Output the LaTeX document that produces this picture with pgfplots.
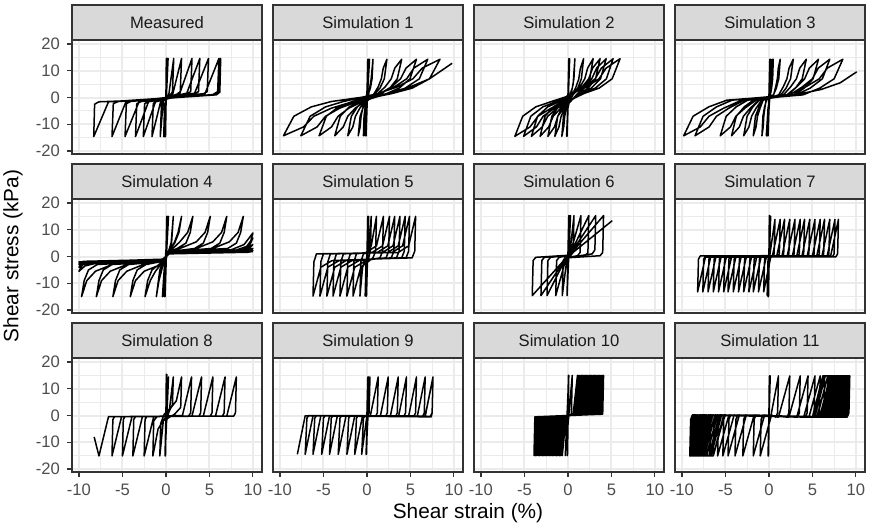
\documentclass[border=0pt]{standalone}
\usepackage{fontspec}
\setmainfont{Liberation Sans}
\usepackage{pgfplots}
\pgfplotsset{compat=1.18}

\definecolor{grid92}{HTML}{EBEBEB}
\definecolor{grey20}{HTML}{333333}
\definecolor{grey30}{HTML}{4D4D4D}
\definecolor{grey85}{HTML}{D9D9D9}
\definecolor{grey10}{HTML}{1A1A1A}

\pgfplotsset{
  facet/.style={
    scale only axis, width=95pt, height=57pt, anchor=south west,
    xmin=-10.8, xmax=11.05, ymin=-21.1, ymax=21.5,
    axis line style={grey20, line width=0.6pt},
    xtick={-10,-5,0,5,10}, ytick={-20,-10,0,10,20},
    minor xtick={-7.5,-2.5,2.5,7.5}, minor ytick={-15,-5,5,15},
    grid=both,
    major grid style={grid92, line width=1pt},
    minor grid style={grid92, line width=0.5pt},
    xticklabels={}, yticklabels={},
    tick pos=left, tick align=outside,
    major tick length=2.5pt, minor tick length=0pt,
    xtick style={draw=none}, ytick style={draw=none},
    tick label style={font=\fontsize{8.3}{9}\selectfont, text=grey30},
  },
  leftcol/.style={yticklabels={-20,-10,0,10,20}, ytick style={draw=grey20, line width=0.6pt}},
  bottomrow/.style={xticklabels={-10,-5,0,5,10}, xtick style={draw=grey20, line width=0.6pt}},
  hy/.style={black, line width=0.75pt, line join=round},
}
\newcommand{\strip}[2]{\node[draw=grey20, fill=grey85, line width=0.6pt, minimum width=95pt,
  minimum height=17.5pt, anchor=south west, inner sep=0pt, outer sep=0pt, text=grey10,
  font=\fontsize{8.3}{9}\selectfont] at (#1.north west) {#2};}

\begin{document}
\begin{tikzpicture}
\path[use as bounding box] (0,0) rectangle (434.5pt,264pt);

% ---------- row 1 ----------
\begin{axis}[facet, leftcol, name=m0, at={(36pt,187pt)}]
\addplot[hy] coordinates {(0,0)(0.05,14.6)(-0.05,-14.6)(0.1,14.6)(-0.1,-14.6)(0.15,14.6)(-0.15,-14.6)(0.25,14.6)(-0.25,-14.6)
(-0.15,-2.5)(0.35,1.5)(0.9,14.6)
(0.75,2)(0.5,1)(-0.3,-1.2)(-0.65,-14.6)
(-0.5,-2)(-0.2,-1)(0.8,1.5)(1.8,14.6)
(1.65,2.2)(1.2,1.1)(-0.6,-1.5)(-1.6,-14.6)
(-1.45,-2.2)(-1.0,-1.2)(1.6,1.6)(3.0,14.6)
(2.85,2.2)(2.3,1.2)(-1.2,-1.6)(-2.6,-14.6)
(-2.45,-2.3)(-1.9,-1.3)(2.4,1.6)(3.9,14.6)
(3.75,2.2)(3.2,1.2)(-2.0,-1.6)(-3.5,-14.6)
(-3.35,-2.3)(-2.8,-1.4)(3.3,1.6)(4.9,14.6)
(4.75,2.2)(4.2,1.2)(-3.1,-1.6)(-4.7,-14.6)
(-4.55,-2.3)(-4.0,-1.4)(4.5,1.5)(6.1,14.6)
(5.95,2.2)(5.4,1.1)(-4.6,-1.6)(-6.2,-14.6)
(-6.05,-2.3)(-5.5,-1.5)(5.8,1.0)(6.2,2)(6.3,14.6)
(6.15,2.2)(5.6,1.0)(-6.6,-1.6)(-8.3,-14.6)
(-8.2,-2.5)(-7.7,-1.6)(-1,-0.8)(0.5,0.5)};
\end{axis}
\strip{m0}{Measured}

\begin{axis}[facet, name=s1, at={(136.5pt,187pt)}]
\addplot[hy] coordinates {(0,0)(0.1,14.3)(-0.1,-14.3)(0.2,14.3)(-0.2,-14.3)(0.3,14.3)(-0.4,-14.3)
(-0.33,-7)(-0.2,-3.5)(0.21,1.5)(0.49,7)(0.7,14.3)
(0.59,7)(0.4,3.5)(0.18,1.5)(-0.25,-1.5)(-0.48,-4)(-0.67,-7)(-0.78,-11)(-1.0,-14.3)
(-0.78,-7)(-0.41,-3.5)(0,-1.5)(0.84,1.5)(1.3,4)(1.66,7)(1.88,11)(2.3,14.3)
(2.0,7)(1.5,3.5)(0.92,1.5)(-0.2,-1.5)(-0.82,-4)(-1.32,-7)(-1.62,-11)(-2.2,-14.3)
(-1.79,-7)(-1.1,-3.5)(-0.31,-1.5)(1.25,1.5)(2.11,4)(2.8,7)(3.21,11)(4.0,14.3)
(3.49,7)(2.63,3.5)(1.65,1.5)(-0.28,-1.5)(-1.35,-4)(-2.2,-7)(-2.72,-11)(-3.7,-14.3)
(-3.07,-7)(-2.03,-3.5)(-0.83,-1.5)(1.52,1.5)(2.83,4)(3.87,7)(4.5,11)(5.7,14.3)
(4.95,7)(3.71,3.5)(2.28,1.5)(-0.52,-1.5)(-2.08,-4)(-3.32,-7)(-4.07,-11)(-5.5,-14.3)
(-4.67,-7)(-3.28,-3.5)(-1.68,-1.5)(1.45,1.5)(3.18,4)(4.57,7)(5.4,11)(7.0,14.3)
(6.03,7)(4.4,3.5)(2.54,1.5)(-1.11,-1.5)(-3.14,-4)(-4.76,-7)(-5.73,-11)(-7.6,-14.3)
(-6.53,-7)(-4.76,-3.5)(-2.71,-1.5)(1.29,1.5)(3.51,4)(5.29,7)(6.36,11)(8.4,14.3)
(7.2,7)(5.2,3.5)(2.9,1.5)(-1.6,-1.5)(-4.1,-4)(-6.1,-7)(-7.3,-11)(-9.6,-14.3)
(-8.4,-7)(-6.4,-3.5)(-4.1,-1.5)(2.5,1.5)(5,4)(7.2,7)(9.8,12.8)};
\end{axis}
\strip{s1}{Simulation 1}

\begin{axis}[facet, name=s2, at={(237pt,187pt)}]
\addplot[hy] coordinates {(0,0)(0.1,14.5)(-0.1,-14.5)(0.2,14.5)(-0.15,-14.5)
(0,-4)(0.3,0.5)(0.6,5)(0.8,14.5)
(0.69,7)(0.5,3.5)(0.28,1.5)(0.05,-1.5)(-0.18,-4)(-0.37,-7)(-0.48,-11)(-0.7,-14.5)
(-0.51,-7)(-0.2,-3.5)(0.16,-1.5)(0.55,1.5)(0.94,4)(1.25,7)(1.44,11)(1.8,14.5)
(1.55,7)(1.14,3.5)(0.67,1.5)(0.15,-1.5)(-0.37,-4)(-0.78,-7)(-1.03,-11)(-1.5,-14.5)
(-1.17,-7)(-0.62,-3.5)(0.01,-1.5)(0.7,1.5)(1.39,4)(1.94,7)(2.27,11)(2.9,14.5)
(2.51,7)(1.86,3.5)(1.11,1.5)(0.3,-1.5)(-0.51,-4)(-1.16,-7)(-1.55,-11)(-2.3,-14.5)
(-1.85,-7)(-1.1,-3.5)(-0.24,-1.5)(0.7,1.5)(1.64,4)(2.39,7)(2.84,11)(3.7,14.5)
(3.18,7)(2.32,3.5)(1.33,1.5)(0.25,-1.5)(-0.83,-4)(-1.69,-7)(-2.21,-11)(-3.2,-14.5)
(-2.63,-7)(-1.68,-3.5)(-0.59,-1.5)(0.6,1.5)(1.79,4)(2.74,7)(3.31,11)(4.4,14.5)
(3.75,7)(2.68,3.5)(1.44,1.5)(0.1,-1.5)(-1.24,-4)(-2.32,-7)(-2.96,-11)(-4.2,-14.5)
(-3.49,-7)(-2.32,-3.5)(-0.97,-1.5)(0.5,1.5)(1.97,4)(3.14,7)(3.85,11)(5.2,14.5)
(4.43,7)(3.14,3.5)(1.66,1.5)(0.05,-1.5)(-1.56,-4)(-2.85,-7)(-3.62,-11)(-5.1,-14.5)
(-4.27,-7)(-2.88,-3.5)(-1.28,-1.5)(0.45,1.5)(2.18,4)(3.57,7)(4.4,11)(6.0,14.5)
(5.09,7)(3.58,3.5)(1.84,1.5)(-0.05,-1.5)(-1.94,-4)(-3.45,-7)(-4.36,-11)(-6.1,-14.5)
(-5.2,-7)(-3.7,-3.5)(-1.9,-1.5)(0,0.5)};
\end{axis}
\strip{s2}{Simulation 2}

\begin{axis}[facet, name=s3, at={(337.5pt,187pt)}]
\addplot[hy] coordinates {(0,0)(0.1,14.3)(-0.1,-14.3)(0.2,14.3)(-0.2,-14.3)(0.4,14.3)(-0.3,-14.3)
(-0.1,-4)(0.1,0)(0.35,5)(0.5,14.3)
(0.43,7)(0.31,3.5)(0.17,1)(-0.33,-1)(-0.47,-4)(-0.59,-7)(-0.66,-11)(-0.8,-14.3)
(-0.69,-7)(-0.5,-3.5)(-0.28,-1)(0.54,1)(0.78,4)(0.97,7)(1.08,11)(1.3,14.3)
(1.13,7)(0.85,3.5)(0.52,1)(-0.67,-1)(-1.02,-4)(-1.31,-7)(-1.48,-11)(-1.8,-14.3)
(-1.55,-7)(-1.13,-3.5)(-0.65,-1)(1.13,1)(1.65,4)(2.07,7)(2.32,11)(2.8,14.3)
(2.49,7)(1.97,3.5)(1.38,1)(-0.83,-1)(-1.48,-4)(-1.99,-7)(-2.3,-11)(-2.9,-14.3)
(-2.51,-7)(-1.85,-3.5)(-1.1,-1)(1.68,1)(2.5,4)(3.16,7)(3.55,11)(4.3,14.3)
(3.83,7)(3.05,3.5)(2.15,1)(-1.17,-1)(-2.15,-4)(-2.93,-7)(-3.4,-11)(-4.3,-14.3)
(-3.75,-7)(-2.84,-3.5)(-1.8,-1)(2.06,1)(3.2,4)(4.11,7)(4.65,11)(5.7,14.3)
(5.08,7)(4.06,3.5)(2.87,1)(-1.49,-1)(-2.77,-4)(-3.8,-7)(-4.42,-11)(-5.6,-14.3)
(-4.91,-7)(-3.77,-3.5)(-2.45,-1)(2.42,1)(3.85,4)(5.0,7)(5.68,11)(7.0,14.3)
(6.15,7)(4.74,3.5)(3.12,1)(-2.86,-1)(-4.62,-4)(-6.03,-7)(-6.88,-11)(-8.5,-14.3)
(-7.57,-7)(-6.03,-3.5)(-4.25,-1)(2.32,1)(4.25,4)(5.79,7)(6.72,11)(8.5,14.3)
(7.5,7)(5.84,3.5)(3.92,1)(-3.14,-1)(-5.22,-4)(-6.89,-7)(-7.89,-11)(-9.8,-14.3)
(-8.72,-7)(-6.92,-3.5)(-4.85,-1)(3,1)(6,3)(8.2,5.5)(10.1,9.6)};
\end{axis}
\strip{s3}{Simulation 3}

% ---------- row 2 ----------
\begin{axis}[facet, leftcol, name=s4, at={(36pt,107.5pt)}]
\addplot[hy] coordinates {(0,0)(0.1,15)(-0.1,-15)(0.2,15)(-0.2,-15)(0.3,15)(-0.4,-15)
(-0.2,-5)(0,-1)(0.3,2)(0.6,5)(0.85,15)
(0.65,5)(0.3,2)(0,0)(-0.3,-2)(-0.7,-5)(-1.1,-15)
(-0.8,-9)(-0.4,-4)(-0.2,-2)(0.2,1.8)(0.6,3)(1.0,5.5)(1.4,9)(1.8,15)
(1.5,9)(1.0,5)(0.4,2.2)(-0.3,-1.8)(-0.6,-3)(-1.2,-5.5)(-1.8,-9)(-2.4,-15)
(-2.1,-9)(-1.6,-5)(-0.8,-3)(-0.4,-1.8)(0.4,1.8)(0.8,3)(1.6,5.5)(2.5,9)(3.1,15)
(2.8,9)(2.3,5)(1.3,3)(0.4,1.8)(-0.4,-1.8)(-0.6,-3)(-2.5,-5.5)(-3.5,-9)(-4.1,-15)
(-3.8,-9)(-3.3,-5)(-2.3,-3)(-0.4,-1.8)(0.4,1.8)(1.6,3)(3.5,5.5)(4.5,9)(5.1,15)
(4.8,9)(4.3,5)(3.3,3)(0.4,1.8)(-0.4,-1.8)(-2.6,-3)(-4.5,-5.5)(-5.5,-9)(-6.1,-15)
(-5.8,-9)(-5.3,-5)(-4.3,-3)(-0.4,-1.8)(0.4,1.8)(3.5,3)(5.4,5.5)(6.4,9)(7.0,15)
(6.7,9)(6.2,5)(5.2,3)(0.4,1.8)(-0.4,-1.8)(-4.5,-3)(-6.4,-5.5)(-7.4,-9)(-8.0,-15)
(-7.7,-9)(-7.2,-5)(-6.2,-3)(-0.4,-1.8)(0.4,1.8)(5.4,3)(7.3,5.5)(8.3,9)(8.9,15)
(8.6,9)(8.1,5)(7.1,3)(0.4,1.8)(-0.4,-1.8)(-6.2,-3)(-8.1,-5.5)(-9.1,-9)(-9.7,-15)
(-9.4,-9)(-8.9,-5)(-7.9,-3)(-0.4,-1.6)(0.4,1.6)(7.5,2.5)(9.0,4.5)(10,8.8)
(9.7,5)(9,2.5)(0.4,1.4)(-0.4,-1.6)(-8,-2.5)(-9.3,-3.5)(-10,-5.5)
(-9.6,-3)(-8.5,-2.2)(-0.4,-1.4)(0.4,1.4)(8,2.3)(9.3,3.8)(10,6.9)
(9.6,4)(8.7,2.2)(0.4,1.3)(-0.4,-1.4)(-8.5,-2.2)(-9.5,-3)(-10,-4.0)
(-9.6,-2.5)(-8.5,-2)(-0.4,-1.3)(0.4,1.3)(8.5,2.1)(9.5,3.2)(10,4.5)
(9.6,3)(8.8,2)(0.4,1.2)(-0.4,-1.3)(-9,-2)(-10,-3.0)
(-9.5,-2.1)(-0.4,-1.2)(0.4,1.2)(9,1.9)(10,3.0)
(9.5,2)(0.4,1.1)(-0.4,-1.2)(-9.5,-1.9)(-10,-2.5)
(-9.5,-1.8)(-0.4,-1.1)(0.4,1.1)(9.5,1.8)(10,2.2)
(9.5,1.6)(0.4,1.0)(-0.4,-1.1)(-10,-2)
(-0.4,-1)(0.4,1)(10,1.8)};
\end{axis}
\strip{s4}{Simulation 4}

\begin{axis}[facet, name=s5, at={(136.5pt,107.5pt)}]
\addplot[hy] coordinates {(0,0)(0.1,15)(-0.05,-14.8)(0.2,15)(-0.2,-14.8)
(-0.1,-2)(0.05,1)(0.2,3)(0.5,15)
(0.4,2)(0.2,-0.5)(-0.2,-1.5)(-0.5,-4)(-0.8,-14.8)
(-0.7,-2)(-0.4,1.0)(0,1.3)(0.5,4)(1.1,15)
(1.0,2)(0.7,-0.5)(0.3,-1.5)(-0.7,-4)(-1.6,-14.8)
(-1.5,-2)(-1.2,1.0)(-0.1,1.5)(1.1,4)(1.9,15)
(1.8,2)(1.5,-0.5)(-0.1,-1.5)(-1.4,-4)(-2.3,-14.8)
(-2.2,-2)(-1.9,1.0)(0.6,1.5)(1.8,4)(2.6,15)
(2.5,2)(2.2,-0.5)(-0.9,-1.5)(-2.2,-4)(-3.1,-14.8)
(-3.0,-2)(-2.7,1.0)(1.2,1.5)(2.4,4)(3.2,15)
(3.1,2)(2.8,-0.5)(-1.7,-1.5)(-3.0,-4)(-3.9,-14.8)
(-3.8,-2)(-3.5,1.0)(1.8,1.5)(3.0,4)(3.8,15)
(3.7,2)(3.4,-0.5)(-2.4,-1.5)(-3.7,-4)(-4.6,-14.8)
(-4.5,-2)(-4.2,1.0)(2.4,1.5)(3.6,4)(4.4,15)
(4.3,2)(4.0,-0.5)(-3.2,-1.5)(-4.5,-4)(-5.4,-14.8)
(-5.3,-2)(-5.0,1.0)(2.9,1.5)(4.1,4)(4.9,15)
(4.8,2)(4.5,-0.5)(-4.0,-1.5)(-5.3,-4)(-6.2,-14.8)
(-6.1,-2)(-5.8,1.0)(3.6,1.5)(4.8,4)(5.6,15)
(5.5,2)(5.2,-0.5)(0,-1)};
\end{axis}
\strip{s5}{Simulation 5}

\begin{axis}[facet, name=s6, at={(237pt,107.5pt)}]
\addplot[hy] coordinates {(0,0)(0.1,15.3)(-0.1,-14.6)(0.2,15.3)(-0.1,-14.6)(0.3,15.3)(-0.1,-14.6)
(0,-1)(0.2,0.5)(0.7,15.3)
(0.6,1.5)(0.3,0.3)(-0.1,-0.5)(-0.65,-14.6)
(-0.55,-1.5)(-0.3,-0.3)(0.2,0.5)(1.5,15.3)
(1.4,1.5)(1.1,0.3)(-0.2,-0.5)(-1.4,-14.6)
(-1.3,-1.5)(-1.0,-0.3)(0.2,0.5)(2.4,15.3)
(2.3,1.5)(2.0,0.3)(-0.2,-0.5)(-2.4,-14.6)
(-2.3,-1.5)(-2.0,-0.3)(0.2,0.5)(3.2,15.3)
(3.1,2.5)(2.8,1.0)(-0.2,-0.5)(-3.1,-14.6)
(-3.0,-1.5)(-2.7,-0.3)(0.2,0.5)(4.1,15.3)
(4.0,1.5)(3.7,0.3)(-0.2,-0.5)(-4.1,-14.6)
(-4.0,-1.5)(-3.7,-0.3)(0.2,0.5)(5.1,13.4)};
\end{axis}
\strip{s6}{Simulation 6}

\begin{axis}[facet, name=s7, at={(337.5pt,107.5pt)}]
\addplot[hy] coordinates {(0,0)(0.05,15.3)(-0.05,-15)(0.1,15.3)(-0.1,-15)(0.2,15)(-0.2,-14.5)
(-0.1,-1)(0.1,0.5)(0.7,13.9)
(0.6,1)(0.4,-0.1)(0.2,-0.3)(-0.6,-13.2)
(-0.5,-1)(-0.3,0.2)(0.4,0.2)(1.3,13.9)
(1.2,1)(1.0,-0.1)(-0.3,-0.2)(-1.2,-13.2)
(-1.1,-1)(-0.9,0.2)(0.9,0.2)(1.8,13.9)
(1.7,1)(1.5,-0.1)(-0.9,-0.2)(-1.8,-13.2)
(-1.7,-1)(-1.5,0.2)(1.5,0.2)(2.4,13.9)
(2.3,1)(2.1,-0.1)(-1.4,-0.2)(-2.3,-13.2)
(-2.2,-1)(-2.0,0.2)(2.1,0.2)(3.0,13.9)
(2.9,1)(2.7,-0.1)(-2.0,-0.2)(-2.9,-13.2)
(-2.8,-1)(-2.6,0.2)(2.7,0.2)(3.6,13.9)
(3.5,1)(3.3,-0.1)(-2.6,-0.2)(-3.5,-13.2)
(-3.4,-1)(-3.2,0.2)(3.2,0.2)(4.1,13.9)
(4.0,1)(3.8,-0.1)(-3.2,-0.2)(-4.1,-13.2)
(-4.0,-1)(-3.8,0.2)(3.8,0.2)(4.7,13.9)
(4.6,1)(4.4,-0.1)(-3.8,-0.2)(-4.7,-13.2)
(-4.6,-1)(-4.4,0.2)(4.4,0.2)(5.3,13.9)
(5.2,1)(5.0,-0.1)(-4.3,-0.2)(-5.2,-13.2)
(-5.1,-1)(-4.9,0.2)(5.0,0.2)(5.9,13.9)
(5.8,1)(5.6,-0.1)(-4.9,-0.2)(-5.8,-13.2)
(-5.7,-1)(-5.5,0.2)(5.5,0.2)(6.4,13.9)
(6.3,1)(6.1,-0.1)(-5.5,-0.2)(-6.4,-13.2)
(-6.3,-1)(-6.1,0.2)(6.1,0.2)(7.0,13.9)
(6.9,1)(6.7,-0.1)(-6.1,-0.2)(-7.0,-13.2)
(-6.9,-1)(-6.7,0.2)(6.7,0.2)(7.6,13.9)
(7.5,1)(7.3,-0.1)(-6.7,-0.2)(-7.6,-13.2)
(-7.5,-1)(-7.3,0.2)(7.1,0.2)(8.0,13.9)
(7.9,1)(7.7,-0.1)(-7.3,-0.2)(-8.2,-13.2)
(-8.1,-1)(-7.9,0.2)(0,0.3)};
\end{axis}
\strip{s7}{Simulation 7}

% ---------- row 3 ----------
\begin{axis}[facet, leftcol, bottomrow, name=s8, at={(36pt,28pt)}]
\addplot[hy] coordinates {(0,0)(0.05,15.4)(-0.05,-15.1)(0.1,15.4)(-0.1,-15.1)(0.3,14.4)(-0.1,-15.1)
(0,-3)(0.4,2)(0.85,14.4)
(0.75,4)(0.3,1)(-0.3,-2)(-0.7,-15.1)
(-0.6,-3)(-0.2,0.5)(0.6,3)(1.2,5.5)(1.8,14.4)
(1.7,3)(1.0,0.5)(-0.3,-2)(-0.9,-5)(-1.5,-15.1)
(-1.4,-2)(-1.0,-0.3)(1.9,0)(2.95,14.4)
(2.85,1)(2.6,-0.2)(-1.4,-0.4)(-2.5,-15.1)
(-2.4,-1.5)(-2.2,-0.4)(3.0,-0.2)(4.1,14.4)
(4.0,1)(3.8,-0.2)(-2.7,-0.4)(-3.8,-15.1)
(-3.7,-1.5)(-3.5,-0.4)(4.3,-0.2)(5.4,14.4)
(5.3,1)(5.1,-0.2)(-3.9,-0.4)(-5.0,-15.1)
(-4.9,-1.5)(-4.7,-0.4)(5.7,-0.2)(6.8,14.4)
(6.7,1)(6.5,-0.2)(-5.1,-0.4)(-6.2,-15.1)
(-6.1,-1.5)(-5.9,-0.4)(7.0,-0.2)(8.1,14.4)
(8.0,1)(7.8,-0.2)(-6.6,-0.4)(-7.7,-15.1)
(-8.25,-8)};
\end{axis}
\strip{s8}{Simulation 8}

\begin{axis}[facet, bottomrow, name=s9, at={(136.5pt,28pt)}]
\addplot[hy] coordinates {(0,0)(0.1,14.4)(-0.05,-14.5)(0.2,14.4)(-0.1,-14.5)(0.35,14.4)
(0.25,1)(0,-0.2)(-0.6,-14.5)
(-0.4,-1)(-0.2,0)(0.4,0)(1.3,14.4)
(1.2,1)(1.0,-0.3)(-0.5,-0.1)(-1.4,-14.5)
(-1.2,-1)(-1.0,0)(1.55,-0.2)(2.45,14.4)
(2.35,1)(2.15,-0.3)(-1.4,-0.1)(-2.3,-14.5)
(-2.1,-1)(-1.9,0)(2.7,-0.2)(3.6,14.4)
(3.5,1)(3.3,-0.3)(-2.4,-0.1)(-3.3,-14.5)
(-3.1,-1)(-2.9,0)(3.65,-0.2)(4.55,14.4)
(4.45,1)(4.25,-0.3)(-3.4,-0.1)(-4.3,-14.5)
(-4.1,-1)(-3.9,0)(4.8,-0.2)(5.7,14.4)
(5.6,1)(5.4,-0.3)(-4.3,-0.1)(-5.2,-14.5)
(-5.0,-1)(-4.8,0)(5.8,-0.2)(6.7,14.4)
(6.6,1)(6.4,-0.3)(-5.3,-0.1)(-6.2,-14.5)
(-6.0,-1)(-5.8,0)(6.7,-0.2)(7.6,14.4)
(7.5,1)(7.3,-0.3)(-6.2,-0.1)(-7.1,-14.5)
(-6.9,-1)(-6.7,0)(6.7,-0.4)(7.6,14.4)
(7.5,1)(7.4,-0.5)(-7.1,-0.1)(-8.0,-14.5)};
\end{axis}
\strip{s9}{Simulation 9}

\begin{axis}[facet, bottomrow, name=s10, at={(237pt,28pt)}]
\addplot[hy] coordinates {(0,0)(0.05,15)(-0.05,-15)(0.1,15)(-0.3,-15)(0.5,15)
(0.4,0.5)(-0.2,-0.5)(-0.65,-15)
(-0.55,-0.5)(0.6,0.5)(1.1,15)(1.0,0.5)(-0.41,-0.5)(-0.81,-15)
(-0.71,-0.5)(0.75,0.5)(1.25,15)(1.15,0.5)(-0.58,-0.5)(-0.98,-15)
(-0.88,-0.5)(0.9,0.5)(1.4,15)(1.3,0.5)(-0.74,-0.5)(-1.14,-15)
(-1.04,-0.5)(1.05,0.5)(1.55,15)(1.45,0.5)(-0.9,-0.5)(-1.3,-15)
(-1.2,-0.5)(1.2,0.5)(1.7,15)(1.6,0.5)(-1.06,-0.5)(-1.46,-15)
(-1.36,-0.5)(1.35,0.5)(1.85,15)(1.75,0.5)(-1.23,-0.5)(-1.63,-15)
(-1.53,-0.5)(1.5,0.5)(2.0,15)(1.9,0.5)(-1.39,-0.5)(-1.79,-15)
(-1.69,-0.5)(1.65,0.5)(2.15,15)(2.05,0.5)(-1.55,-0.5)(-1.95,-15)
(-1.85,-0.5)(1.8,0.5)(2.3,15)(2.2,0.5)(-1.71,-0.5)(-2.11,-15)
(-2.01,-0.5)(1.95,0.5)(2.45,15)(2.35,0.5)(-1.88,-0.5)(-2.28,-15)
(-2.18,-0.5)(2.1,0.5)(2.6,15)(2.5,0.5)(-2.04,-0.5)(-2.44,-15)
(-2.34,-0.5)(2.25,0.5)(2.75,15)(2.65,0.5)(-2.2,-0.5)(-2.6,-15)
(-2.5,-0.5)(2.4,0.5)(2.9,15)(2.8,0.5)(-2.36,-0.5)(-2.76,-15)
(-2.66,-0.5)(2.55,0.5)(3.05,15)(2.95,0.5)(-2.53,-0.5)(-2.93,-15)
(-2.83,-0.5)(2.7,0.5)(3.2,15)(3.1,0.5)(-2.69,-0.5)(-3.09,-15)
(-2.99,-0.5)(2.85,0.5)(3.35,15)(3.25,0.5)(-2.85,-0.5)(-3.25,-15)
(-3.15,-0.5)(3.0,0.5)(3.5,15)(3.4,0.5)(-3.01,-0.5)(-3.41,-15)
(-3.31,-0.5)(3.15,0.5)(3.65,15)(3.55,0.5)(-3.18,-0.5)(-3.58,-15)
(-3.48,-0.5)(3.3,0.5)(3.8,15)(3.7,0.5)(-3.34,-0.5)(-3.74,-15)
(-3.64,-0.5)(3.45,0.5)(3.95,15)(3.85,0.5)(-3.5,-0.5)(-3.9,-15)
(-3.8,-0.5)(3.6,0.5)(4.1,15)(4.0,0.5)(0,0)};
\end{axis}
\strip{s10}{Simulation 10}

\begin{axis}[facet, bottomrow, name=s11, at={(337.5pt,28pt)}]
\addplot[hy] coordinates {(0,0)(0.05,14.8)(-0.05,-15.1)(0.1,14.8)(-0.1,-15.1)(0.15,14.8)(-0.1,-15.1)
(0,-1.5)(0.2,-0.6)(1.1,14.8)
(1.0,1)(0.8,-0.6)(0.3,0.2)(-1.0,-15.1)
(-0.9,-1.5)(-0.7,0.2)(1.1,-0.6)(2.4,14.8)
(2.3,1)(2.1,-0.6)(-0.5,0.2)(-1.8,-15.1)
(-1.7,-1.5)(-1.5,0.2)(2.3,-0.6)(3.6,14.8)
(3.5,1)(3.3,-0.6)(-1.7,0.2)(-3.0,-15.1)
(-2.9,-1.5)(-2.7,0.2)(3.2,-0.6)(4.5,14.8)
(4.4,1)(4.2,-0.6)(-2.6,0.2)(-3.9,-15.1)
(-3.8,-1.5)(-3.6,0.2)(4.0,-0.6)(5.3,14.8)
(5.2,1)(5.0,-0.6)(-3.4,0.2)(-4.7,-15.1)
(-4.6,-1.5)(-4.4,0.2)(4.6,-0.6)(5.9,14.8)
(5.8,1)(5.6,-0.6)(-4.0,0.2)(-5.3,-15.1)
(-5.2,-1.5)(-5.0,0.2)(5.1,-0.6)(6.4,14.8)
(6.3,1)(6.1,-0.6)(-4.6,0.2)(-5.9,-15.1)
(-5.8,-1.5)(-5.6,0.2)(5.5,-0.6)(6.8,14.8)
(6.7,1)(6.5,-0.6)(-5.1,0.2)(-6.4,-15.1)
(-6.3,-1.5)(-6.1,0.2)(5.9,-0.6)(7.2,14.8)
(7.1,1)(6.9,-0.6)(-5.5,0.2)(-6.8,-15.1)
(-6.7,-1.5)(-6.5,0.2)(6.2,-0.6)(7.5,14.8)
(7.4,1)(7.2,-0.6)(-5.9,0.2)(-7.2,-15.1)
(-7.1,-1.5)(-6.9,0.2)(6.5,-0.6)(7.8,14.8)
(7.7,1)(7.5,-0.6)(-6.2,0.2)(-7.5,-15.1)
(-7.4,-1.5)(-7.2,0.2)(6.75,-0.6)(8.05,14.8)
(7.95,1)(7.75,-0.6)(-6.5,0.2)(-7.8,-15.1)
(-7.7,-1.5)(-7.5,0.2)(7.0,-0.6)(8.3,14.8)
(8.2,1)(8.0,-0.6)(-6.75,0.2)(-8.05,-15.1)
(-7.95,-1.5)(-7.75,0.2)(7.2,-0.6)(8.5,14.8)
(8.4,1)(8.2,-0.6)(-7.0,0.2)(-8.3,-15.1)
(-8.2,-1.5)(-8.0,0.2)(7.4,-0.6)(8.7,14.8)
(8.6,1)(8.4,-0.6)(-7.2,0.2)(-8.5,-15.1)
(-8.4,-1.5)(-8.2,0.2)(7.55,-0.6)(8.85,14.8)
(8.75,1)(8.55,-0.6)(-7.35,0.2)(-8.65,-15.1)
(-8.55,-1.5)(-8.35,0.2)(7.7,-0.6)(9.0,14.8)
(8.9,1)(8.7,-0.6)(-7.5,0.2)(-8.8,-15.1)
(-8.7,-1.5)(-8.5,0.2)(7.8,-0.6)(9.1,14.8)
(9.0,1)(8.8,-0.6)(-7.6,0.2)(-8.9,-15.1)
(-8.8,-1.5)(-8.6,0.2)(7.9,-0.6)(9.2,14.8)
(9.1,1)(8.9,-0.6)(-7.7,0.2)(-9.0,-15.1)
(-9.0,-1.5)(-8.8,0.2)(5.0,-0.6)(6.2,14.8)(9.3,14.8)
(9.2,1)(9.0,-0.6)(-5.2,0.2)(-6.4,-15.1)(-9.1,-15.1)
(-9.0,-1.5)(-8.8,0.2)(5.28,-0.6)(6.48,14.8)(9.3,14.8)
(9.2,1)(9.0,-0.6)(-5.45,0.2)(-6.65,-15.1)(-9.1,-15.1)
(-9.0,-1.5)(-8.8,0.2)(5.56,-0.6)(6.76,14.8)(9.3,14.8)
(9.2,1)(9.0,-0.6)(-5.7,0.2)(-6.9,-15.1)(-9.1,-15.1)
(-9.0,-1.5)(-8.8,0.2)(5.84,-0.6)(7.04,14.8)(9.3,14.8)
(9.2,1)(9.0,-0.6)(-5.95,0.2)(-7.15,-15.1)(-9.1,-15.1)
(-9.0,-1.5)(-8.8,0.2)(6.12,-0.6)(7.32,14.8)(9.3,14.8)
(9.2,1)(9.0,-0.6)(-6.2,0.2)(-7.4,-15.1)(-9.1,-15.1)
(-9.0,-1.5)(-8.8,0.2)(6.4,-0.6)(7.6,14.8)(9.3,14.8)
(9.2,1)(9.0,-0.6)(-6.45,0.2)(-7.65,-15.1)(-9.1,-15.1)
(-9.0,-1.5)(-8.8,0.2)(6.68,-0.6)(7.88,14.8)(9.3,14.8)
(9.2,1)(9.0,-0.6)(-6.7,0.2)(-7.9,-15.1)(-9.1,-15.1)
(-9.0,-1.5)(-8.8,0.2)(6.96,-0.6)(8.16,14.8)(9.3,14.8)
(9.2,1)(9.0,-0.6)(-6.95,0.2)(-8.15,-15.1)(-9.1,-15.1)
(-9.0,-1.5)(-8.8,0.2)(7.24,-0.6)(8.44,14.8)(9.3,14.8)
(9.2,1)(9.0,-0.6)(-7.2,0.2)(-8.4,-15.1)(-9.1,-15.1)
(-9.0,-1.5)(-8.8,0.2)(7.52,-0.6)(8.72,14.8)(9.3,14.8)
(9.2,1)(9.0,-0.6)(-7.45,0.2)(-8.65,-15.1)(-9.1,-15.1)
(-9.0,-1.5)(-8.8,0.2)(7.8,-0.6)(9.0,14.8)(9.3,14.8)
(9.2,1)(9.0,-0.6)(-7.7,0.2)(-8.9,-15.1)(-9.1,-15.1)
(-9.0,-1.5)(-8.8,0.2)(8.08,-0.6)(9.28,14.8)(9.3,14.8)
(9.2,1)(9.0,-0.6)(-7.9,0.2)(-9.1,-15.1)
(-9.0,-1.5)(-8.8,0.2)(0,0)};
\end{axis}
\strip{s11}{Simulation 11}

\node[rotate=90, font=\fontsize{10.4}{12}\selectfont] at (6.5pt,136pt) {Shear stress (kPa)};
\node[font=\fontsize{10.4}{12}\selectfont] at (234pt,7.5pt) {Shear strain (\%)};
\end{tikzpicture}
\end{document}
